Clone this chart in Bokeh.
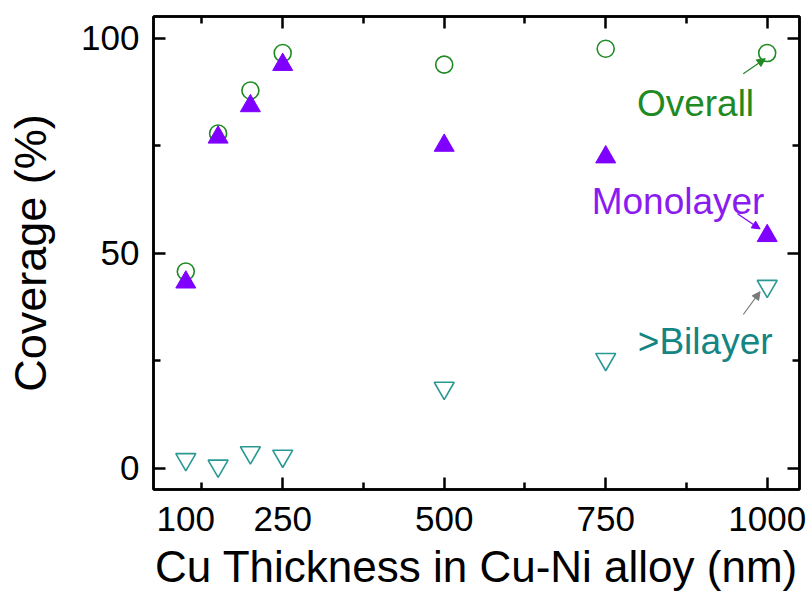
from bokeh.plotting import figure
from bokeh.models import Range1d, FixedTicker, LinearAxis, Label, Arrow, NormalHead
from bokeh.embed import file_html
from bokeh.resources import INLINE

# ---- data ----
thickness = [100, 150, 200, 250, 500, 750, 1000]
overall = [45.7, 77.8, 87.8, 96.5, 93.8, 97.5, 96.5]
monolayer = [43.2, 76.9, 84.2, 93.8, 75.0, 72.3, 54.0]
bilayer = [2.0, 0.5, 3.6, 2.8, 18.6, 25.3, 42.3]

x_tick_labels = [100, 250, 500, 750, 1000]
x_major_ticks = [250, 500, 750, 1000]
x_minor_ticks = [125, 375, 625, 875]
y_major_ticks = [0, 50, 100]
y_minor_ticks = [25, 75]

FONT = "Liberation Sans"
GREEN = "#1f8a24"
PURPLE = "#7f00ff"
TEAL = "#2a9994"
TEAL_TXT = "#138582"

p = figure(width=811, height=593,
           x_range=Range1d(50, 1050), y_range=Range1d(-5, 105),
           x_axis_type=None, y_axis_type=None,
           output_backend="svg", toolbar_location=None,
           min_border_left=153, min_border_right=12,
           min_border_top=16, min_border_bottom=103)
p.outline_line_color = "black"
p.outline_line_width = 2.5
p.background_fill_color = "white"
p.border_fill_color = "white"


def tick_only_axis(ticks, minor):
    return LinearAxis(ticker=FixedTicker(ticks=ticks, minor_ticks=minor),
                      major_tick_in=12, major_tick_out=0,
                      minor_tick_in=7, minor_tick_out=0,
                      axis_line_width=2.5, major_tick_line_width=2.5,
                      minor_tick_line_width=2.5,
                      major_label_text_font_size="1px",
                      major_label_text_color=None,
                      major_label_standoff=0)


# left axis with labels
yaxis = LinearAxis(ticker=FixedTicker(ticks=y_major_ticks, minor_ticks=y_minor_ticks),
                   major_tick_in=12, major_tick_out=0,
                   minor_tick_in=7, minor_tick_out=0,
                   axis_line_width=2.5, major_tick_line_width=2.5,
                   minor_tick_line_width=2.5,
                   major_label_text_font=FONT, major_label_text_font_size="35px",
                   major_label_text_color="black", major_label_standoff=14,
                   axis_label="Coverage (%)", axis_label_text_font=FONT,
                   axis_label_text_font_size="45px", axis_label_text_font_style="normal",
                   axis_label_text_color="black", axis_label_standoff=22)
p.add_layout(yaxis, "left")

# bottom: tick marks axis (nearest the frame) then label axis
p.add_layout(tick_only_axis(x_major_ticks, x_minor_ticks), "below")
xlab = LinearAxis(ticker=FixedTicker(ticks=x_tick_labels, minor_ticks=[]),
                  axis_line_color=None, major_tick_line_color=None,
                  minor_tick_line_color=None,
                  major_tick_in=0, major_tick_out=0, minor_tick_in=0, minor_tick_out=0,
                  major_label_text_font=FONT, major_label_text_font_size="35px",
                  major_label_text_color="black", major_label_standoff=17,
                  axis_label="Cu Thickness in Cu-Ni alloy (nm)", axis_label_text_font=FONT,
                  axis_label_text_font_size="44px", axis_label_text_font_style="normal",
                  axis_label_text_color="black", axis_label_standoff=8)
p.add_layout(xlab, "below")

# mirrored axes
p.add_layout(tick_only_axis(x_major_ticks, x_minor_ticks), "above")
p.add_layout(tick_only_axis(y_major_ticks, y_minor_ticks), "right")

# data
p.scatter(thickness, overall, marker="circle", size=17,
          fill_color=None, line_color=GREEN, line_width=1.6)
p.scatter(thickness, bilayer, marker="inverted_triangle", size=20,
          fill_color=None, line_color=TEAL, line_width=1.6)
p.scatter(thickness, monolayer, marker="triangle", size=20,
          fill_color=PURPLE, line_color=PURPLE, line_width=1)

# annotations
p.add_layout(Label(x=889, y=84.7, text="Overall", text_align="center",
                   text_baseline="alphabetic", text_font=FONT,
                   text_font_size="37px", text_color=GREEN))
p.add_layout(Label(x=862, y=61.9, text="Monolayer", text_align="center",
                   text_baseline="alphabetic", text_font=FONT,
                   text_font_size="37px", text_color="#8a1cf0"))
p.add_layout(Label(x=904, y=29.5, text=">Bilayer", text_align="center",
                   text_baseline="alphabetic", text_font=FONT,
                   text_font_size="37px", text_color=TEAL_TXT))

p.add_layout(Arrow(end=NormalHead(size=8, fill_color=GREEN, line_color=GREEN, line_width=1),
                   x_start=963, y_start=91.7, x_end=997, y_end=95.2,
                   line_color=GREEN, line_width=1.2))
p.add_layout(Arrow(end=NormalHead(size=8, fill_color=PURPLE, line_color=PURPLE, line_width=1),
                   x_start=954, y_start=59.1, x_end=989, y_end=55.6,
                   line_color=PURPLE, line_width=1.2))
p.add_layout(Arrow(end=NormalHead(size=8, fill_color="#7a7a7a", line_color="#7a7a7a", line_width=1),
                   x_start=963, y_start=35.7, x_end=989, y_end=41.0,
                   line_color="#7a7a7a", line_width=1.2))

open("out.html", "w").write(file_html(p, INLINE))
